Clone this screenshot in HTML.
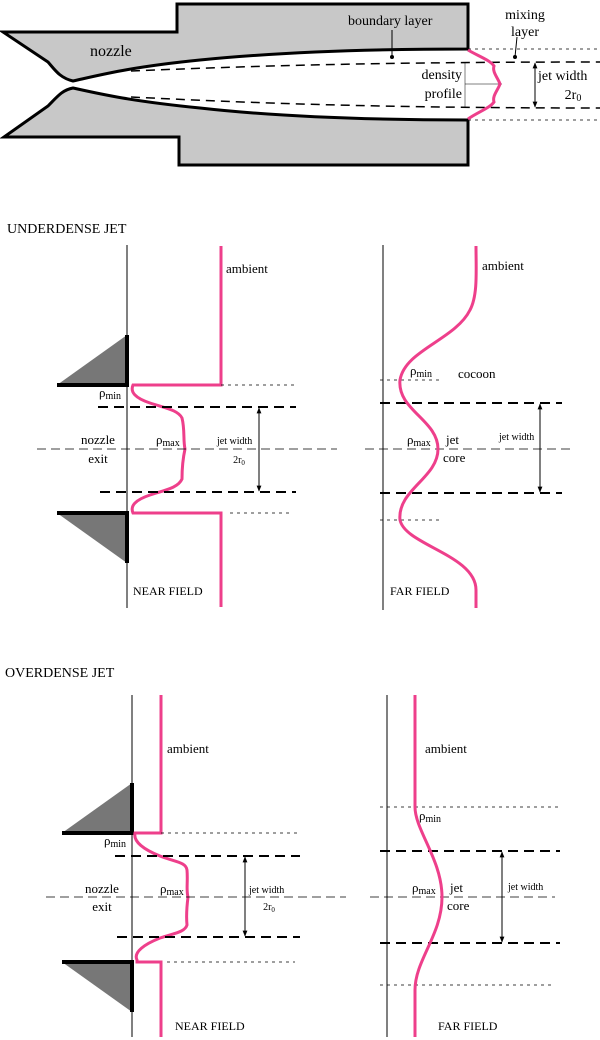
<!DOCTYPE html>
<html><head><meta charset="utf-8"><style>
html,body{margin:0;padding:0;background:#fff;}
svg{display:block;font-family:"Liberation Serif",serif;}
</style></head><body>
<svg width="600" height="1040" viewBox="0 0 600 1040" xmlns="http://www.w3.org/2000/svg">
<defs>
<marker id="ah" viewBox="0 0 10 10" refX="9" refY="5" markerWidth="6" markerHeight="6" orient="auto-start-reverse"><path d="M0,1 L10,5 L0,9 z" fill="#000"/></marker>
</defs>
<!-- TOP NOZZLE -->
<g stroke="#000" stroke-width="3" fill="#c8c8c8" stroke-linejoin="miter">
<path d="M3,32 L177,32 L177,4 L468,4 L468,49 C380,49 280,52 200,60 C130,67 100,75 73,81 C60,78 55,70 48,62 Z"/>
<path d="M4,137 L179,137 L179,165 L468,165 L468,120 C380,120 280,117 200,108 C130,101 100,94 73,88 C62,90 57,97 48,106 Z"/>
</g>
<g stroke="#000" stroke-width="1.5" fill="none" stroke-dasharray="9,6">
<path d="M131,71 C250,66 380,62 600,62"/>
<path d="M131,97 C250,103 380,108 600,108"/>
</g>
<g stroke="#000" stroke-width="0.8" stroke-dasharray="3,4" fill="none">
<line x1="468" y1="49" x2="600" y2="49"/>
<line x1="468" y1="120" x2="600" y2="120"/>
</g>
<line x1="465" y1="62" x2="465" y2="108" stroke="#000" stroke-width="0.5"/>
<line x1="465" y1="84" x2="502" y2="84" stroke="#000" stroke-width="0.5"/>
<path d="M468,50 C478,56 490,60 494,66 C492,72 498,78 500,84 C498,90 492,96 494,102 C490,108 478,112 468,119" stroke="#ee3f8b" stroke-width="3" fill="none"/>
<line x1="535" y1="63" x2="535" y2="107" stroke="#000" stroke-width="1" marker-start="url(#ah)" marker-end="url(#ah)"/>
<line x1="392" y1="30" x2="392" y2="57" stroke="#000" stroke-width="1"/><circle cx="392" cy="57" r="2"/>
<line x1="517" y1="37" x2="515" y2="57" stroke="#000" stroke-width="1"/><circle cx="515" cy="57" r="2"/>
<g font-size="14" fill="#000">
<text x="90" y="56" font-size="16">nozzle</text>
<text x="348" y="25">boundary  layer</text>
<text x="525" y="19" text-anchor="middle">mixing</text>
<text x="525" y="36" text-anchor="middle">layer</text>
<text x="462" y="79" text-anchor="end">density</text>
<text x="462" y="98" text-anchor="end">profile</text>
<text x="538" y="80">jet width</text>
<text x="573" y="99" text-anchor="middle">2r<tspan font-size="10" dy="2">0</tspan></text>
</g>

<!-- UNDERDENSE -->
<text x="7" y="233" font-size="14">UNDERDENSE JET</text>
<line x1="127" y1="245" x2="127" y2="608" stroke="#000" stroke-width="1"/>
<path d="M57,385 L127,335 L127,385 Z" fill="#777"/>
<path d="M57,513 L127,563 L127,513 Z" fill="#777"/>
<path d="M127,335 L127,385 L57,385" stroke="#000" stroke-width="4" fill="none"/>
<path d="M57,513 L127,513 L127,563" stroke="#000" stroke-width="4" fill="none"/>
<path d="M221,246 L221,385 L133,385 C130,392 135,398 150,403 C165,408 178,410 182,418 C185,430 183,440 185,449 C183,458 182,470 182,479 C178,488 165,490 150,495 C135,500 130,506 133,513 L221,513 L221,607" stroke="#ee3f8b" stroke-width="3" fill="none"/>
<g stroke="#000" stroke-width="0.8" stroke-dasharray="3,4"><line x1="221" y1="385" x2="296" y2="385"/><line x1="230" y1="513" x2="290" y2="513"/>
<line x1="380" y1="380" x2="440" y2="380"/><line x1="380" y1="520" x2="440" y2="520"/></g>
<g stroke="#000" stroke-width="2" stroke-dasharray="10,6"><line x1="98" y1="407" x2="296" y2="407"/><line x1="100" y1="492" x2="296" y2="492"/>
<line x1="380" y1="403" x2="562" y2="403"/><line x1="380" y1="493" x2="562" y2="493"/></g>
<g stroke="#000" stroke-width="0.7" stroke-dasharray="9,5"><line x1="37" y1="449" x2="337" y2="449"/><line x1="365" y1="449" x2="570" y2="449"/></g>
<line x1="259" y1="408" x2="259" y2="491" stroke="#000" stroke-width="1" marker-start="url(#ah)" marker-end="url(#ah)"/>
<line x1="383" y1="245" x2="383" y2="610" stroke="#000" stroke-width="1"/>
<path d="M476,246 C476,270 478,295 470,310 C455,340 405,350 400,380 C397,410 438,420 438,449 C438,478 397,490 400,520 C405,545 476,555 476,590 L476,608" stroke="#ee3f8b" stroke-width="3" fill="none"/>
<line x1="540" y1="404" x2="540" y2="492" stroke="#000" stroke-width="1" marker-start="url(#ah)" marker-end="url(#ah)"/>
<g font-size="13" fill="#000">
<text x="226" y="273">ambient</text>
<text x="99" y="397">ρ<tspan font-size="10" dy="2">min</tspan></text>
<text x="98" y="444" text-anchor="middle">nozzle</text>
<text x="98" y="463" text-anchor="middle">exit</text>
<text x="156" y="444">ρ<tspan font-size="10" dy="2">max</tspan></text>
<text x="217" y="444" font-size="10">jet width</text>
<text x="239" y="463" font-size="10" text-anchor="middle">2r<tspan font-size="7" dy="2">0</tspan></text>
<text x="133" y="595" font-size="12">NEAR FIELD</text>
<text x="482" y="270">ambient</text>
<text x="410" y="375">ρ<tspan font-size="10" dy="2">min</tspan></text>
<text x="458" y="378">cocoon</text>
<text x="407" y="444">ρ<tspan font-size="10" dy="2">max</tspan></text>
<text x="446" y="444">jet</text>
<text x="443" y="462">core</text>
<text x="499" y="440" font-size="10">jet width</text>
<text x="390" y="595" font-size="12">FAR FIELD</text>
</g>

<!-- OVERDENSE -->
<text x="5" y="677" font-size="14">OVERDENSE JET</text>
<line x1="132" y1="695" x2="132" y2="1037" stroke="#000" stroke-width="1"/>
<path d="M62,833 L132,783 L132,833 Z" fill="#777"/>
<path d="M62,962 L132,1012 L132,962 Z" fill="#777"/>
<path d="M132,783 L132,833 L62,833" stroke="#000" stroke-width="4" fill="none"/>
<path d="M62,962 L132,962 L132,1012" stroke="#000" stroke-width="4" fill="none"/>
<path d="M161,695 L161,833 L135,833 C133,842 145,850 160,856 C175,862 186,862 187,870 C188,882 186,890 188,897 C187,905 186,915 187,925 C185,932 175,933 160,938 C145,944 133,952 137,960 L137,962 L161,962 L161,1037" stroke="#ee3f8b" stroke-width="3" fill="none"/>
<g stroke="#000" stroke-width="0.8" stroke-dasharray="3,4"><line x1="161" y1="833" x2="300" y2="833"/><line x1="167" y1="962" x2="295" y2="962"/>
<line x1="380" y1="807" x2="560" y2="807"/><line x1="380" y1="985" x2="555" y2="985"/></g>
<g stroke="#000" stroke-width="2" stroke-dasharray="10,6"><line x1="115" y1="856" x2="300" y2="856"/><line x1="117" y1="937" x2="300" y2="937"/>
<line x1="380" y1="851" x2="560" y2="851"/><line x1="380" y1="943" x2="560" y2="943"/></g>
<g stroke="#000" stroke-width="0.7" stroke-dasharray="9,5"><line x1="46" y1="897" x2="346" y2="897"/><line x1="370" y1="897" x2="555" y2="897"/></g>
<line x1="245" y1="857" x2="245" y2="936" stroke="#000" stroke-width="1" marker-start="url(#ah)" marker-end="url(#ah)"/>
<line x1="387" y1="695" x2="387" y2="1037" stroke="#000" stroke-width="1"/>
<path d="M415,695 L415,807 C415,830 442,860 442,897 C442,935 415,960 415,990 L415,1037" stroke="#ee3f8b" stroke-width="3" fill="none"/>
<line x1="502" y1="852" x2="502" y2="942" stroke="#000" stroke-width="1" marker-start="url(#ah)" marker-end="url(#ah)"/>
<g font-size="13" fill="#000">
<text x="167" y="753">ambient</text>
<text x="104" y="845">ρ<tspan font-size="10" dy="2">min</tspan></text>
<text x="102" y="893" text-anchor="middle">nozzle</text>
<text x="102" y="911" text-anchor="middle">exit</text>
<text x="160" y="893">ρ<tspan font-size="10" dy="2">max</tspan></text>
<text x="249" y="893" font-size="10">jet width</text>
<text x="269" y="910" font-size="10" text-anchor="middle">2r<tspan font-size="7" dy="2">0</tspan></text>
<text x="175" y="1030" font-size="12">NEAR FIELD</text>
<text x="425" y="753">ambient</text>
<text x="419" y="820">ρ<tspan font-size="10" dy="2">min</tspan></text>
<text x="412" y="892">ρ<tspan font-size="10" dy="2">max</tspan></text>
<text x="450" y="892">jet</text>
<text x="447" y="910">core</text>
<text x="508" y="890" font-size="10">jet width</text>
<text x="438" y="1030" font-size="12">FAR FIELD</text>
</g>
</svg>
</body></html>
